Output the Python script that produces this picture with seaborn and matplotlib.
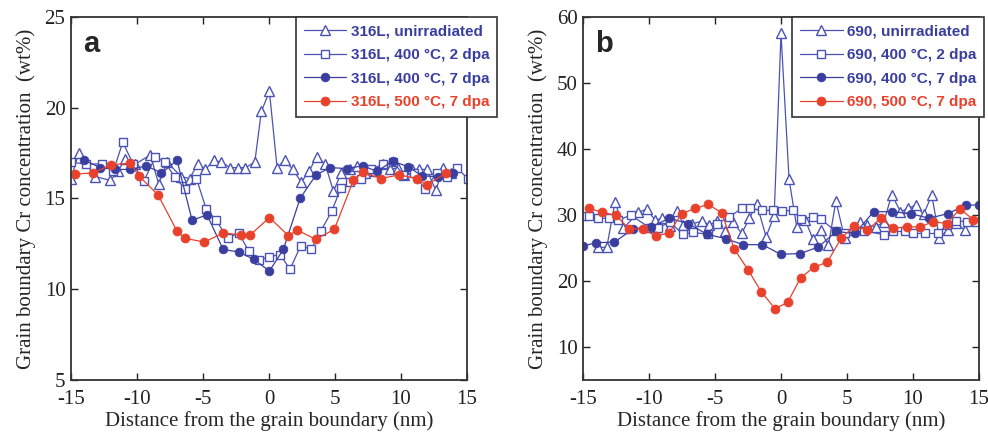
import numpy as np
import pandas as pd
import matplotlib
matplotlib.use('Agg')
import matplotlib.pyplot as plt
import seaborn as sns

# ---------------- panel a: 316L ----------------
a_unirr_x = [-15.0, -14.42, -13.15, -12.02, -11.44, -10.88, -10.12, -8.99, -8.36, -7.73,
             -6.64, -6.01, -5.40, -4.82, -4.19, -3.61, -2.93, -2.37, -1.79, -1.08,
             -0.58, 0.03, 0.61, 1.18, 1.81, 2.44, 3.03, 3.61, 4.25, 4.88,
             5.47, 6.1, 6.7, 7.3, 8.0, 8.6, 9.2, 9.8, 10.2, 10.8,
             11.39, 11.95, 12.63, 13.21, 13.8]
a_unirr_y = [16.1, 17.5, 16.2, 16.0, 16.5, 17.2, 16.9, 17.4, 15.8, 17.0,
             16.2, 16.1, 16.9, 16.6, 17.1, 17.0, 16.7, 16.7, 16.7, 17.0,
             19.8, 20.9, 16.7, 17.1, 16.6, 15.9, 16.5, 17.3, 16.9, 15.4,
             16.4, 16.6, 16.8, 16.4, 16.5, 16.9, 16.6, 16.7, 16.3, 16.6,
             16.6, 16.6, 15.45, 16.7, 16.4]

a_2dpa_x = [-15.0, -13.9, -12.65, -11.8, -11.08, -10.3, -9.49, -8.61, -7.90, -7.15,
            -6.34, -5.50, -4.75, -4.01, -3.13, -2.30, -1.54, -0.78, 0.03, 0.84,
            1.59, 2.40, 3.19, 3.92, 4.75, 5.46, 6.14, 6.95, 7.7, 8.67,
            9.42, 10.18, 11.0, 11.82, 12.71, 13.46, 14.22, 15.05]
a_2dpa_y = [17.0, 16.9, 16.9, 16.5, 18.1, 16.9, 15.95, 17.3, 17.0, 16.2,
            15.5, 16.1, 14.4, 13.8, 12.8, 13.1, 12.1, 11.6, 11.8, 11.9,
            11.1, 12.4, 12.2, 13.2, 14.3, 15.6, 15.9, 16.1, 16.6, 16.9,
            17.0, 16.3, 16.4, 15.5, 16.4, 16.2, 16.7, 16.1]

a_7dpa_x = [-14.0, -12.78, -11.64, -10.5, -9.29, -8.15, -6.97, -5.83, -4.70, -3.48,
            -2.30, -1.16, 0.03, 1.09, 2.35, 3.56, 4.63, 5.89, 7.1, 8.16,
            9.37, 10.56, 11.57, 12.83, 13.92]
a_7dpa_y = [17.1, 16.7, 16.6, 16.6, 16.8, 16.4, 17.1, 13.8, 14.1, 12.2,
            12.05, 11.65, 11.0, 12.2, 15.0, 16.3, 16.7, 16.65, 16.8, 16.5,
            17.05, 16.75, 16.25, 16.2, 16.4]

a_500_x = [-14.72, -13.36, -11.97, -10.50, -9.87, -8.41, -6.97, -6.34, -4.90, -3.48,
           -2.09, -1.41, 0.03, 1.47, 2.15, 3.54, 4.95, 6.39, 7.1, 8.46,
           9.88, 11.19, 11.95, 13.41]
a_500_y = [16.35, 16.4, 16.85, 16.95, 16.25, 15.2, 13.2, 12.8, 12.6, 13.1,
           13.0, 13.0, 13.95, 12.95, 13.25, 12.75, 13.3, 16.0, 16.45, 16.1,
           16.3, 16.1, 15.75, 16.4]

# ---------------- panel b: 690 ----------------
b_unirr_x = [-13.83, -13.2, -12.57, -11.94, -10.8, -10.17, -9.54, -9.04, -8.4, -7.85,
             -7.4, -6.76, -6.0, -5.42, -4.87, -4.24, -3.61, -2.98, -2.39, -1.84,
             -1.13, -0.52, 0.0, 0.61, 1.19, 1.85, 2.4, 3.0, 3.59, 4.16,
             4.82, 5.4, 5.99, 6.5, 7.18, 7.8, 8.39, 9.05, 9.65, 10.2,
             10.8, 11.42, 12.0, 12.65, 13.28, 13.92]
b_unirr_y = [25.1, 25.1, 32.0, 28.0, 30.4, 30.9, 29.2, 29.5, 28.4, 30.6,
             28.5, 28.6, 29.1, 28.5, 29.1, 27.6, 28.9, 27.2, 29.5, 31.7,
             26.7, 29.9, 57.5, 35.4, 28.2, 29.2, 26.4, 27.7, 25.4, 32.1,
             26.5, 27.7, 28.9, 28.5, 28.2, 29.0, 33.1, 30.5, 31.0, 31.5,
             30.1, 33.0, 26.5, 27.8, 28.8, 27.7]

b_2dpa_x = [-15.0, -14.52, -13.83, -13.0, -12.32, -11.38, -9.99, -9.29, -8.4, -7.45,
            -6.69, -5.55, -4.87, -3.91, -2.98, -2.34, -1.46, -0.63, 0.05, 0.89,
            1.5, 2.4, 3.01, 4.15, 4.85, 6.32, 7.83, 8.46, 9.4, 10.03,
            10.91, 11.92, 12.55, 13.26, 14.07, 14.78]
b_2dpa_y = [29.9, 29.8, 29.5, 29.5, 29.2, 30.0, 28.1, 28.1, 28.9, 27.1,
            27.35, 27.1, 28.7, 29.7, 31.0, 31.0, 30.7, 30.7, 30.6, 30.7,
            29.4, 29.7, 29.4, 27.5, 27.2, 27.6, 27.0, 27.5, 27.5, 27.2,
            27.2, 27.2, 28.5, 29.1, 29.0, 29.0]

b_7dpa_x = [-15.0, -14.01, -12.62, -11.18, -9.84, -8.46, -7.02, -5.63, -4.19, -2.85,
            -1.41, -0.03, 1.44, 2.83, 4.18, 5.6, 7.02, 8.44, 9.84, 11.21,
            12.63, 14.04, 15.0]
b_7dpa_y = [25.3, 25.8, 25.9, 27.9, 28.2, 29.5, 28.7, 27.1, 26.4, 25.5,
            25.5, 24.05, 24.15, 25.15, 27.5, 27.2, 30.5, 30.5, 30.2, 29.5,
            30.2, 31.5, 31.5]

b_500_x = [-14.52, -13.53, -12.52, -11.51, -10.47, -9.49, -8.48, -7.52, -6.51, -5.50,
           -4.49, -3.53, -2.47, -1.51, -0.45, 0.5, 1.49, 2.5, 3.51, 4.55,
           5.53, 6.54, 7.55, 8.51, 9.52, 10.53, 11.54, 12.55, 13.56, 14.57]
b_500_y = [31.0, 30.4, 29.95, 27.9, 27.9, 26.8, 27.3, 30.2, 31.0, 31.6,
           30.3, 24.8, 21.6, 18.4, 15.8, 16.75, 20.5, 22.1, 22.85, 26.45,
           28.3, 27.7, 29.5, 28.0, 28.2, 28.2, 29.0, 28.7, 30.9, 29.3]

labels_a = ['316L, unirradiated', '316L, 400 °C, 2 dpa', '316L, 400 °C, 7 dpa', '316L, 500 °C, 7 dpa']
labels_b = ['690, unirradiated', '690, 400 °C, 2 dpa', '690, 400 °C, 7 dpa', '690, 500 °C, 7 dpa']

xticks = [-15, -10, -5, 0, 5, 10, 15]
yticks_a = [5, 10, 15, 20, 25]
yticks_b = [10, 20, 30, 40, 50, 60]

# ---------------- styling ----------------
sns.set_theme(style='ticks')
plt.rcParams['font.family'] = ['Liberation Serif', 'DejaVu Serif']
plt.rcParams['axes.unicode_minus'] = False

BLUE = '#3a3f9f'
BLUE2 = '#4a52b4'
RED = '#e8412c'

styles = [
    dict(color=BLUE2, marker='^', markersize=7, markerfacecolor='white',
         markeredgecolor=BLUE2, markeredgewidth=1.0, linewidth=0.9),
    dict(color=BLUE2, marker='s', markersize=6, markerfacecolor='white',
         markeredgecolor=BLUE2, markeredgewidth=1.0, linewidth=0.9),
    dict(color=BLUE, marker='o', markersize=6.3, markerfacecolor=BLUE,
         markeredgecolor=BLUE, markeredgewidth=0.5, linewidth=0.9),
    dict(color=RED, marker='o', markersize=6.5, markerfacecolor=RED,
         markeredgecolor=RED, markeredgewidth=0.5, linewidth=0.9),
]
text_colors = [BLUE, BLUE, BLUE, RED]

fig = plt.figure(figsize=(9.88, 4.32), dpi=100)
axA = fig.add_axes([0.0719, 0.1204, 0.4008, 0.8403])
axB = fig.add_axes([0.5901, 0.1204, 0.4008, 0.8403])


def draw(ax, xs, ys, style):
    df = pd.DataFrame({'x': xs, 'y': ys})
    sns.lineplot(data=df, x='x', y='y', ax=ax, estimator=None, sort=False,
                 legend=False, **style)
    return ax.lines[-1]


def setup(ax, series, labels, yticks, ylim, letter, leg_x):
    handles = []
    for (xs, ys), st in zip(series, styles):
        handles.append(draw(ax, xs, ys, st))
    ax.set_xlim(-15, 15)
    ax.set_ylim(*ylim)
    ax.set_xticks(xticks)
    ax.set_xticklabels([str(t) for t in xticks])
    ax.set_yticks(yticks)
    ax.set_yticklabels([str(t) for t in yticks])
    ax.tick_params(direction='in', top=True, right=True, length=5, width=1.0,
                   labelsize=15, colors='#222222')
    ax.tick_params(axis='x', pad=7)
    ax.tick_params(axis='y', pad=4)
    for sp in ax.spines.values():
        sp.set_linewidth(1.3)
        sp.set_color('#333333')
    ax.set_xlabel('Distance from the grain boundary (nm)', fontsize=15, labelpad=2)
    ax.set_ylabel('Grain boundary Cr concentration  (wt%)', fontsize=15, labelpad=6)
    ax.text(0.03, 0.925, letter, transform=ax.transAxes, fontsize=21,
            fontweight='bold', family=['Liberation Sans', 'DejaVu Sans'],
            va='center', ha='left')
    leg = ax.legend(handles, labels, loc='upper left', bbox_to_anchor=(leg_x, 1.0),
                    frameon=True, fancybox=False, framealpha=1.0, edgecolor='#333333',
                    handlelength=2.8, handletextpad=0.3, labelspacing=0.62,
                    borderpad=0.5, borderaxespad=0.0,
                    prop=dict(family=['Liberation Sans', 'DejaVu Sans'], weight='bold', size=11))
    leg.get_frame().set_linewidth(1.2)
    for t, c in zip(leg.get_texts(), text_colors):
        t.set_color(c)
    leg.set_zorder(10)


setup(axA, [(a_unirr_x, a_unirr_y), (a_2dpa_x, a_2dpa_y), (a_7dpa_x, a_7dpa_y), (a_500_x, a_500_y)],
      labels_a, yticks_a, (5, 25), 'a', 0.568)
setup(axB, [(b_unirr_x, b_unirr_y), (b_2dpa_x, b_2dpa_y), (b_7dpa_x, b_7dpa_y), (b_500_x, b_500_y)],
      labels_b, yticks_b, (5, 60), 'b', 0.528)

fig.savefig('out.png', dpi=100)
